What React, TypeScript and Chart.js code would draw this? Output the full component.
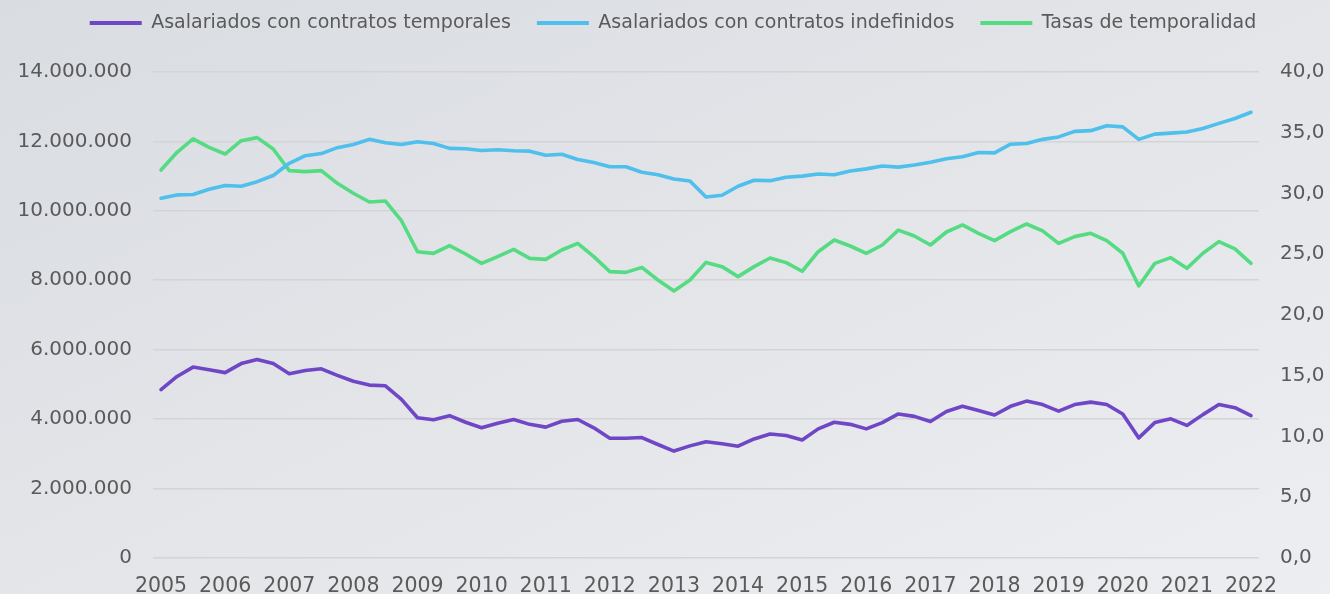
import React, { useEffect, useRef } from 'react';
import { Chart, registerables } from 'chart.js';

Chart.register(...registerables);

// ---- Data ----
const YEARS = [2005, 2006, 2007, 2008, 2009, 2010, 2011, 2012, 2013, 2014, 2015, 2016, 2017, 2018, 2019, 2020, 2021, 2022];
const QUARTERS = ['T1', 'T2', 'T3', 'T4'];
const CATEGORIES: string[] = [];
YEARS.forEach((y) => QUARTERS.forEach((q) => { if (y < 2022 || q === 'T1') CATEGORIES.push(`${y}${q}`); }));

const TEMPORALES = [
  4850000, 5230000, 5500000, 5420000, 5340000, 5600000, 5720000, 5600000, 5310000, 5400000, 5450000, 5260000, 5090000, 4980000,
  4960000, 4570000, 4040000, 3980000, 4100000, 3910000, 3750000, 3880000, 3990000, 3850000, 3770000, 3940000, 3990000, 3750000,
  3450000, 3450000, 3470000, 3270000, 3080000, 3230000, 3350000, 3290000, 3220000, 3430000, 3570000, 3530000, 3400000, 3720000,
  3910000, 3850000, 3720000, 3900000, 4150000, 4080000, 3930000, 4220000, 4370000, 4250000, 4120000, 4370000, 4520000,
  4420000, 4230000, 4420000, 4490000, 4420000, 4150000, 3460000, 3900000, 4010000, 3820000, 4130000, 4420000, 4330000, 4100000,
];

const INDEFINIDOS = [
  10360000, 10460000, 10470000, 10620000, 10730000, 10710000, 10840000, 11020000, 11370000, 11590000, 11650000, 11820000, 11910000, 12060000,
  11960000, 11910000, 11990000, 11940000, 11800000, 11790000, 11740000, 11760000, 11730000, 11720000, 11600000, 11630000, 11480000, 11390000,
  11270000, 11270000, 11110000, 11040000, 10920000, 10860000, 10400000, 10450000, 10710000, 10880000, 10870000, 10970000, 11000000, 11060000,
  11040000, 11150000, 11210000, 11290000, 11260000, 11320000, 11400000, 11500000, 11560000, 11680000, 11670000, 11920000, 11940000,
  12060000, 12130000, 12290000, 12310000, 12450000, 12420000, 12060000, 12210000, 12240000, 12270000, 12370000, 12520000, 12660000, 12840000,
];

const TASAS = [
  31.93, 33.39, 34.49, 33.8, 33.25, 34.35, 34.6, 33.66, 31.88, 31.8, 31.88, 30.84, 30.02, 29.3,
  29.38, 27.76, 25.21, 25.07, 25.71, 25.02, 24.25, 24.8, 25.4, 24.66, 24.58, 25.35, 25.9, 24.8,
  23.57, 23.51, 23.92, 22.88, 21.98, 22.88, 24.33, 23.98, 23.16, 23.98, 24.69, 24.31, 23.6, 25.21,
  26.17, 25.68, 25.08, 25.76, 26.99, 26.5, 25.76, 26.83, 27.41, 26.72, 26.12, 26.86, 27.49,
  26.92, 25.9, 26.45, 26.72, 26.12, 25.08, 22.39, 24.25, 24.72, 23.84, 25.08, 26.04, 25.44, 24.25,
];

const SERIES_NAMES = ['Asalariados con contratos temporales', 'Asalariados con contratos indefinidos', 'Tasas de temporalidad'];
const COLORS = ['#6f47c6', '#4fbfec', '#55dc83'];

const LEFT_MAX = 14000000;
const LEFT_STEP = 2000000;
const RIGHT_MAX = 40;
const RIGHT_STEP = 5;

const TEXT_COLOR = '#5a5a5a';
const FONT = "'DejaVu Sans', sans-serif";

const fmtThousands = (v: number) => String(Math.round(v)).replace(/\B(?=(\d{3})+(?!\d))/g, '.');
const fmtDecimal = (v: number) => v.toFixed(1).replace('.', ',');

const bgPlugin = {
  id: 'bgGradient',
  beforeDraw(chart: any) {
    const { ctx, width, height } = chart;
    const g = ctx.createLinearGradient(0, 0, 442, 990);
    g.addColorStop(0, '#d9dce1');
    g.addColorStop(0.5, '#e3e5e9');
    g.addColorStop(1, '#eceef1');
    ctx.save();
    ctx.fillStyle = g;
    ctx.fillRect(0, 0, width, height);
    ctx.restore();
  },
};

const legendTweak = {
  id: 'legendTweak',
  beforeInit(chart: any) {
    const lg = chart.legend;
    if (!lg) return;
    const fit = lg.fit;
    lg.fit = function () {
      fit.call(this);
      this.height = 72;
    };
    const draw = lg.draw;
    lg.draw = function (...args: any[]) {
      const c = this.ctx;
      c.save();
      c.translate(8, -12.5);
      draw.apply(this, args);
      c.restore();
    };
  },
};

export default function App() {
  const canvasRef = useRef<HTMLCanvasElement | null>(null);

  useEffect(() => {
    document.body.style.margin = '0';
    document.body.style.overflow = 'hidden';
    const canvas = canvasRef.current;
    if (!canvas) return;

    const chart = new Chart(canvas, {
      type: 'line',
      data: {
        labels: CATEGORIES,
        datasets: [
          { label: SERIES_NAMES[0], data: TEMPORALES, borderColor: COLORS[0], backgroundColor: COLORS[0], yAxisID: 'y' },
          { label: SERIES_NAMES[1], data: INDEFINIDOS, borderColor: COLORS[1], backgroundColor: COLORS[1], yAxisID: 'y' },
          { label: SERIES_NAMES[2], data: TASAS, borderColor: COLORS[2], backgroundColor: COLORS[2], yAxisID: 'y1' },
        ],
      },
      options: {
        animation: false,
        responsive: true,
        maintainAspectRatio: false,
        layout: { padding: 0 },
        elements: {
          line: { borderWidth: 3.6, tension: 0, borderJoinStyle: 'round', borderCapStyle: 'round' },
          point: { radius: 0, hoverRadius: 0 },
        },
        plugins: {
          legend: {
            position: 'top',
            labels: {
              color: TEXT_COLOR,
              font: { family: FONT, size: 19 },
              boxWidth: 52,
              boxHeight: 4,
              padding: 26,
              generateLabels: (ch: any) =>
                Chart.defaults.plugins.legend.labels.generateLabels(ch).map((l: any) => ({ ...l, lineWidth: 0, fillStyle: l.strokeStyle })),
            },
          },
          tooltip: { enabled: false },
        },
        scales: {
          x: {
            offset: true,
            grid: { display: false, drawTicks: false },
            border: { display: false },
            ticks: {
              autoSkip: false,
              maxRotation: 0,
              minRotation: 0,
              padding: 16,
              color: TEXT_COLOR,
              font: { family: FONT, size: 20.5 },
              callback: (_v: any, i: number) => (CATEGORIES[i].endsWith('T1') ? CATEGORIES[i].slice(0, 4) : ''),
            },
            afterFit: (s: any) => { s.height = 36; },
          },
          y: {
            position: 'left',
            min: 0,
            max: LEFT_MAX,
            grid: { color: '#d4d4d7', lineWidth: 1.6, drawTicks: false },
            border: { display: false },
            ticks: {
              stepSize: LEFT_STEP,
              padding: 21,
              color: TEXT_COLOR,
              font: { family: FONT, size: 20 },
              callback: (v: any) => fmtThousands(Number(v)),
            },
            afterFit: (s: any) => { s.width = 153; },
          },
          y1: {
            position: 'right',
            min: 0,
            max: RIGHT_MAX,
            grid: { display: false, drawTicks: false },
            border: { display: false },
            ticks: {
              stepSize: RIGHT_STEP,
              padding: 21,
              color: TEXT_COLOR,
              font: { family: FONT, size: 20 },
              callback: (v: any) => fmtDecimal(Number(v)),
            },
            afterFit: (s: any) => { s.width = 71; },
          },
        },
      },
      plugins: [bgPlugin, legendTweak],
    } as any);

    return () => chart.destroy();
  }, []);

  return (
    <div style={{ position: 'relative', width: 1330, height: 594 }}>
      <canvas ref={canvasRef} />
    </div>
  );
}
